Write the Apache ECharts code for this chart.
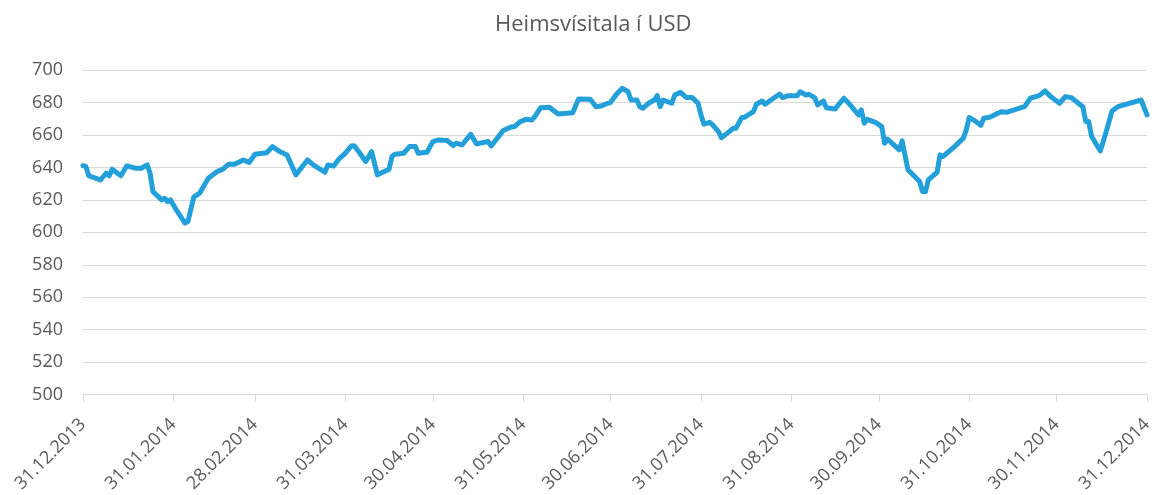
<!DOCTYPE html>
<html><head><meta charset="utf-8">
<script src="https://cdn.jsdelivr.net/npm/echarts@6/dist/echarts.min.js"></script>
<style>html,body{margin:0;padding:0;background:#fff}#c{width:1157px;height:495px}</style>
</head><body><div id="c"></div>
<script>
const title = 'Heimsvísitala í USD';
const dates = ['31.12.2013','01.01.2014','02.01.2014','06.01.2014','08.01.2014','09.01.2014','10.01.2014','13.01.2014','15.01.2014','18.01.2014','20.01.2014','22.01.2014','23.01.2014','24.01.2014','27.01.2014','28.01.2014','29.01.2014','30.01.2014','01.02.2014','04.02.2014','05.02.2014','07.02.2014','09.02.2014','11.02.2014','12.02.2014','15.02.2014','17.02.2014','19.02.2014','21.02.2014','24.02.2014','26.02.2014','28.02.2014','04.03.2014','06.03.2014','08.03.2014','11.03.2014','12.03.2014','14.03.2014','18.03.2014','20.03.2014','24.03.2014','25.03.2014','27.03.2014','29.03.2014','31.03.2014','02.04.2014','03.04.2014','05.04.2014','07.04.2014','09.04.2014','11.04.2014','15.04.2014','16.04.2014','17.04.2014','20.04.2014','22.04.2014','24.04.2014','25.04.2014','28.04.2014','30.04.2014','02.05.2014','05.05.2014','07.05.2014','08.05.2014','10.05.2014','13.05.2014','15.05.2014','19.05.2014','20.05.2014','23.05.2014','24.05.2014','27.05.2014','28.05.2014','30.05.2014','01.06.2014','03.06.2014','04.06.2014','06.06.2014','09.06.2014','12.06.2014','17.06.2014','19.06.2014','23.06.2014','25.06.2014','27.06.2014','29.06.2014','30.06.2014','02.07.2014','04.07.2014','05.07.2014','06.07.2014','07.07.2014','09.07.2014','10.07.2014','11.07.2014','13.07.2014','15.07.2014','16.07.2014','17.07.2014','18.07.2014','21.07.2014','22.07.2014','24.07.2014','26.07.2014','28.07.2014','30.07.2014','31.07.2014','01.08.2014','03.08.2014','04.08.2014','06.08.2014','07.08.2014','10.08.2014','11.08.2014','12.08.2014','14.08.2014','15.08.2014','18.08.2014','19.08.2014','21.08.2014','22.08.2014','24.08.2014','27.08.2014','28.08.2014','30.08.2014','02.09.2014','03.09.2014','05.09.2014','06.09.2014','08.09.2014','09.09.2014','11.09.2014','12.09.2014','15.09.2014','18.09.2014','20.09.2014','23.09.2014','24.09.2014','25.09.2014','26.09.2014','29.09.2014','01.10.2014','02.10.2014','03.10.2014','07.10.2014','08.10.2014','10.10.2014','14.10.2014','15.10.2014','16.10.2014','17.10.2014','20.10.2014','21.10.2014','22.10.2014','26.10.2014','29.10.2014','30.10.2014','31.10.2014','02.11.2014','04.11.2014','05.11.2014','07.11.2014','11.11.2014','13.11.2014','19.11.2014','21.11.2014','24.11.2014','26.11.2014','28.11.2014','01.12.2014','03.12.2014','05.12.2014','09.12.2014','10.12.2014','11.12.2014','12.12.2014','15.12.2014','17.12.2014','19.12.2014','21.12.2014','29.12.2014','31.12.2014'];
const values = [641.1,640.5,634.8,632.3,636.4,634.8,638.9,634.8,640.9,639.5,639.5,641.5,636.4,625.1,620,621,619,620,613.8,605.6,606.7,621.7,624.1,630.2,633.3,637.4,638.9,642,642,644.6,643,648.1,649,652.8,650.3,647.7,643.6,635.4,644.6,641.5,637,641.5,640.9,645.6,648.7,653.2,653.4,648.7,643.6,649.7,635.4,638.9,646.7,648.1,648.7,652.8,652.8,648.7,649.3,655.9,656.9,656.5,653.4,654.9,653.8,660.4,654.5,655.9,653.2,660,662.5,665.1,665.1,668.2,669.6,669.2,671.3,676.8,677.1,672.9,673.7,682.2,682,677.4,678,679.5,680.1,685,688.7,687.7,686.6,681.5,681.5,677.4,676.4,679.5,681.5,684.2,677.4,681.5,679.5,684.6,686.2,683,683,679.5,672.3,666.6,667.8,666.2,662,658.3,662.5,664.1,664.1,670.7,670.9,674.3,678.9,680.9,678.9,681.5,685.2,683,684.2,684.2,686.6,684.6,685,683,678.5,680.9,676.8,676,682.6,678.9,672.3,675.4,667.2,669.6,667.6,665.1,654.9,657.4,650.8,656.3,638.5,631.3,625.1,625,632.3,637,647.7,646.7,652.8,658,663.1,670.7,668.6,665.9,670.3,670.9,674.3,674,677.4,682.6,684.2,687.1,683.6,679.5,683.6,683,677.4,668.2,668.2,659,650.2,662,674.8,677.4,681.5,672.3];
const yMin = 500, yMax = 700, yStep = 20;
const startDate = '31.12.2013', endDate = '31.12.2014';

function parse(s){const p=s.split('.');return new Date(Date.UTC(+p[2],+p[1]-1,+p[0]));}
function fmt(d){const dd=String(d.getUTCDate()).padStart(2,'0'),mm=String(d.getUTCMonth()+1).padStart(2,'0');return dd+'.'+mm+'.'+d.getUTCFullYear();}
const days=[]; const monthEnd=[];
for(let d=parse(startDate); d<=parse(endDate); d=new Date(d.getTime()+86400000)){
  days.push(fmt(d));
  const n=new Date(d.getTime()+86400000);
  monthEnd.push(n.getUTCMonth()!==d.getUTCMonth());
}
const valMap={}; dates.forEach((d,i)=>valMap[d]=values[i]);
const seriesData=days.map(d=>valMap[d]===undefined?null:valMap[d]);

const FONT='"Open Sans", sans-serif';
const chart=echarts.init(document.getElementById('c'),null,{renderer:'canvas'});
chart.setOption({
  animation:false,
  title:{text:title,left:490,top:9,textStyle:{fontFamily:FONT,fontSize:22,fontWeight:'normal',color:'#595959'}},
  grid:{left:83,right:10,top:70,bottom:100,containLabel:false},
  xAxis:{type:'category',data:days,boundaryGap:false,
    axisLine:{lineStyle:{color:'#d9d9d9',width:1}},
    axisTick:{show:true,interval:(i)=>monthEnd[i],length:7,lineStyle:{color:'#d9d9d9'}},
    axisLabel:{interval:(i)=>monthEnd[i],rotate:45,margin:27,fontFamily:FONT,fontSize:18,color:'#595959'},
    splitLine:{show:false}},
  yAxis:{type:'value',min:yMin,max:yMax,interval:yStep,
    axisLine:{show:false},axisTick:{show:false},
    axisLabel:{fontFamily:FONT,fontSize:18,color:'#595959',margin:20},
    splitLine:{lineStyle:{color:'#d9d9d9',width:1}}},
  series:[{type:'line',data:seriesData,connectNulls:true,showSymbol:false,symbol:'none',
    lineStyle:{color:'#239fd9',width:5,join:'round',cap:'round'}}]
});
</script></body></html>
